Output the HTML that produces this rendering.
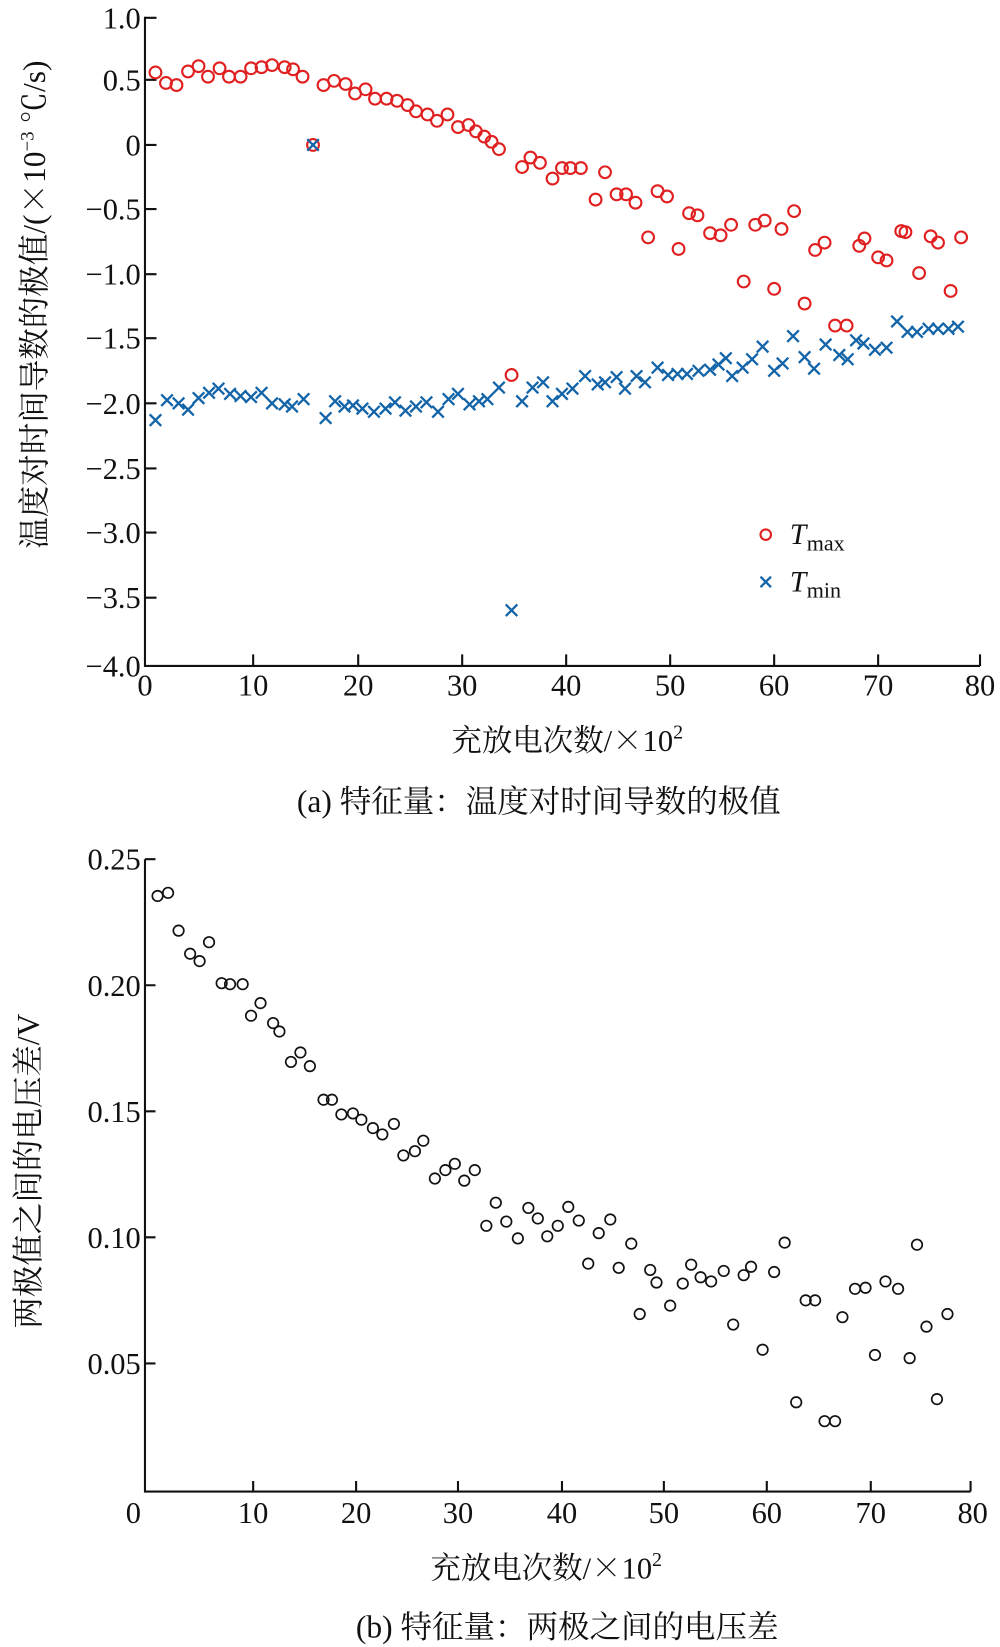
<!DOCTYPE html>
<html><head><meta charset="utf-8"><style>
html,body{margin:0;padding:0;background:#fff;}
svg{display:block;}
text{font-family:"Liberation Serif","Noto Serif CJK SC","Noto Sans CJK SC",serif;fill:#111;}
.cj{font-family:"Noto Serif CJK SC","Noto Sans CJK SC",serif;}
</style></head><body>
<svg width="1000" height="1647" viewBox="0 0 952 1568" xmlns="http://www.w3.org/2000/svg">
<defs>
<circle id="o" r="5.6" fill="none" stroke="#e02020" stroke-width="2"/>
<path id="x" d="M-5.5,-5.5L5.5,5.5M-5.5,5.5L5.5,-5.5" stroke="#1464a8" stroke-width="2.2" fill="none"/>
<circle id="b" r="5" fill="none" stroke="#111" stroke-width="1.6"/>
</defs>
<!-- TOP CHART AXES -->
<g stroke="#111" stroke-width="2" fill="none">
<path d="M138,16V634H933"/>
<path d="M138,17h11M138,76h11M138,138h11M138,199h11M138,261h11M138,322h11M138,384h11M138,446h11M138,507h11M138,569h11"/>
<path d="M241,634v-11M341,634v-11M440,634v-11M539,634v-11M638,634v-11M737,634v-11M836,634v-11M933,634v-11"/>
</g>
<g font-size="29" text-anchor="end">
<text x="134" y="27">1.0</text><text x="134" y="86">0.5</text><text x="134" y="148">0</text>
<text x="134" y="209">−0.5</text><text x="134" y="271">−1.0</text><text x="134" y="332">−1.5</text>
<text x="134" y="394">−2.0</text><text x="134" y="456">−2.5</text><text x="134" y="517">−3.0</text>
<text x="134" y="579">−3.5</text><text x="134" y="644">−4.0</text>
</g>
<g font-size="29" text-anchor="middle">
<text x="138" y="662">0</text><text x="241" y="662">10</text><text x="341" y="662">20</text><text x="440" y="662">30</text>
<text x="539" y="662">40</text><text x="638" y="662">50</text><text x="737" y="662">60</text><text x="836" y="662">70</text><text x="933" y="662">80</text>
</g>
<text x="540" y="715" font-size="29" text-anchor="middle">充放电次数/<tspan class="cj">×</tspan>10<tspan font-size="19" dy="-12">2</tspan></text>
<text x="513" y="773" font-size="30" text-anchor="middle">(a) 特征量<tspan class="cj">：</tspan>温度对时间导数的极值</text>
<text transform="translate(43,290) rotate(-90)" font-size="30" text-anchor="middle">温度对时间导数的极值/(<tspan class="cj">×</tspan>10<tspan font-size="18" dy="-11">−3</tspan><tspan dy="11"> </tspan><tspan class="cj">℃</tspan>/s)</text>
<!-- legend -->
<circle cx="729" cy="509" r="5" fill="none" stroke="#e02020" stroke-width="2"/>
<path d="M724,549L734,559M724,559L734,549" stroke="#1464a8" stroke-width="2.2"/>
<text x="752" y="518" font-size="28" font-style="italic">T</text><text x="768" y="524" font-size="21">max</text>
<text x="752" y="563" font-size="28" font-style="italic">T</text><text x="768" y="569" font-size="21">min</text>
<!-- red circles -->
<g>
<use href="#o" x="148" y="69"/><use href="#o" x="158" y="79"/><use href="#o" x="168" y="81"/><use href="#o" x="179" y="68"/><use href="#o" x="189" y="63"/><use href="#o" x="198" y="73"/><use href="#o" x="209" y="65"/><use href="#o" x="218" y="73"/><use href="#o" x="229" y="73"/><use href="#o" x="239" y="65"/><use href="#o" x="249" y="64"/><use href="#o" x="259" y="62"/><use href="#o" x="271" y="64"/><use href="#o" x="279" y="66"/><use href="#o" x="288" y="73"/><use href="#o" x="298" y="138"/><use href="#o" x="308" y="81"/><use href="#o" x="318" y="77"/><use href="#o" x="329" y="80"/><use href="#o" x="338" y="89"/><use href="#o" x="348" y="85"/><use href="#o" x="357" y="94"/><use href="#o" x="368" y="94"/><use href="#o" x="378" y="96"/><use href="#o" x="388" y="100"/><use href="#o" x="396" y="106"/><use href="#o" x="407" y="109"/><use href="#o" x="416" y="115"/><use href="#o" x="426" y="109"/><use href="#o" x="436" y="121"/><use href="#o" x="446" y="119"/><use href="#o" x="453" y="125"/><use href="#o" x="461" y="130"/><use href="#o" x="468" y="135"/><use href="#o" x="475" y="142"/><use href="#o" x="497" y="159"/><use href="#o" x="505" y="150"/><use href="#o" x="514" y="155"/><use href="#o" x="526" y="170"/><use href="#o" x="535" y="160"/><use href="#o" x="543" y="160"/><use href="#o" x="553" y="160"/><use href="#o" x="567" y="190"/><use href="#o" x="576" y="164"/><use href="#o" x="587" y="185"/><use href="#o" x="596" y="185"/><use href="#o" x="605" y="193"/><use href="#o" x="617" y="226"/><use href="#o" x="626" y="182"/><use href="#o" x="635" y="187"/><use href="#o" x="646" y="237"/><use href="#o" x="656" y="203"/><use href="#o" x="664" y="205"/><use href="#o" x="676" y="222"/><use href="#o" x="686" y="224"/><use href="#o" x="696" y="214"/><use href="#o" x="708" y="268"/><use href="#o" x="719" y="214"/><use href="#o" x="728" y="210"/><use href="#o" x="737" y="275"/><use href="#o" x="744" y="218"/><use href="#o" x="756" y="201"/><use href="#o" x="766" y="289"/><use href="#o" x="776" y="238"/><use href="#o" x="785" y="231"/><use href="#o" x="795" y="310"/><use href="#o" x="806" y="310"/><use href="#o" x="818" y="234"/><use href="#o" x="823" y="227"/><use href="#o" x="836" y="245"/><use href="#o" x="844" y="248"/><use href="#o" x="858" y="220"/><use href="#o" x="862" y="221"/><use href="#o" x="875" y="260"/><use href="#o" x="886" y="225"/><use href="#o" x="893" y="231"/><use href="#o" x="905" y="277"/><use href="#o" x="915" y="226"/><use href="#o" x="487" y="357"/>
</g>
<!-- blue crosses -->
<g>
<use href="#x" x="148" y="400"/><use href="#x" x="159" y="381"/><use href="#x" x="170" y="384"/><use href="#x" x="179" y="390"/><use href="#x" x="189" y="379"/><use href="#x" x="199" y="374"/><use href="#x" x="208" y="370"/><use href="#x" x="219" y="375"/><use href="#x" x="229" y="377"/><use href="#x" x="239" y="378"/><use href="#x" x="249" y="374"/><use href="#x" x="259" y="384"/><use href="#x" x="271" y="385"/><use href="#x" x="278" y="387"/><use href="#x" x="289" y="380"/><use href="#x" x="298" y="138"/><use href="#x" x="310" y="398"/><use href="#x" x="319" y="382"/><use href="#x" x="328" y="387"/><use href="#x" x="336" y="386"/><use href="#x" x="345" y="389"/><use href="#x" x="356" y="392"/><use href="#x" x="367" y="389"/><use href="#x" x="376" y="383"/><use href="#x" x="386" y="391"/><use href="#x" x="396" y="387"/><use href="#x" x="406" y="383"/><use href="#x" x="417" y="392"/><use href="#x" x="427" y="380"/><use href="#x" x="436" y="375"/><use href="#x" x="447" y="385"/><use href="#x" x="456" y="382"/><use href="#x" x="464" y="380"/><use href="#x" x="475" y="369"/><use href="#x" x="487" y="581"/><use href="#x" x="497" y="382"/><use href="#x" x="507" y="369"/><use href="#x" x="517" y="364"/><use href="#x" x="526" y="382"/><use href="#x" x="535" y="375"/><use href="#x" x="545" y="370"/><use href="#x" x="557" y="358"/><use href="#x" x="569" y="366"/><use href="#x" x="576" y="364"/><use href="#x" x="587" y="359"/><use href="#x" x="595" y="370"/><use href="#x" x="606" y="358"/><use href="#x" x="614" y="364"/><use href="#x" x="626" y="350"/><use href="#x" x="636" y="357"/><use href="#x" x="645" y="356"/><use href="#x" x="654" y="356"/><use href="#x" x="665" y="353"/><use href="#x" x="676" y="352"/><use href="#x" x="684" y="347"/><use href="#x" x="691" y="341"/><use href="#x" x="697" y="358"/><use href="#x" x="707" y="350"/><use href="#x" x="716" y="342"/><use href="#x" x="726" y="330"/><use href="#x" x="737" y="353"/><use href="#x" x="745" y="346"/><use href="#x" x="755" y="320"/><use href="#x" x="766" y="340"/><use href="#x" x="775" y="351"/><use href="#x" x="786" y="328"/><use href="#x" x="799" y="338"/><use href="#x" x="807" y="342"/><use href="#x" x="815" y="324"/><use href="#x" x="822" y="327"/><use href="#x" x="833" y="333"/><use href="#x" x="844" y="331"/><use href="#x" x="854" y="306"/><use href="#x" x="864" y="316"/><use href="#x" x="873" y="316"/><use href="#x" x="884" y="313"/><use href="#x" x="893" y="313"/><use href="#x" x="903" y="313"/><use href="#x" x="912" y="311"/>
</g>

<!-- BOTTOM CHART -->
<g stroke="#111" stroke-width="2" fill="none">
<path d="M138,818V1420H924"/>
<path d="M138,818h10M138,938h10M138,1058h10M138,1178h10M138,1298h10"/>
<path d="M241,1420v-10M339,1420v-10M436,1420v-10M535,1420v-10M632,1420v-10M730,1420v-10M829,1420v-10M924,1420v-10"/>
</g>
<g font-size="29" text-anchor="end">
<text x="134" y="828">0.25</text><text x="134" y="948">0.20</text><text x="134" y="1068">0.15</text>
<text x="134" y="1188">0.10</text><text x="134" y="1308">0.05</text>
</g>
<g font-size="29" text-anchor="middle">
<text x="127" y="1450">0</text><text x="241" y="1450">10</text><text x="339" y="1450">20</text><text x="436" y="1450">30</text>
<text x="535" y="1450">40</text><text x="632" y="1450">50</text><text x="730" y="1450">60</text><text x="829" y="1450">70</text><text x="926" y="1450">80</text>
</g>
<text x="520" y="1503" font-size="29" text-anchor="middle">充放电次数/<tspan class="cj">×</tspan>10<tspan font-size="19" dy="-12">2</tspan></text>
<text x="540" y="1559" font-size="30" text-anchor="middle">(b) 特征量<tspan class="cj">：</tspan>两极之间的电压差</text>
<text transform="translate(37,1115) rotate(-90)" font-size="30" text-anchor="middle">两极值之间的电压差/V</text>
<g>
<use href="#b" x="150" y="853"/><use href="#b" x="160" y="850"/><use href="#b" x="170" y="886"/><use href="#b" x="181" y="908"/><use href="#b" x="190" y="915"/><use href="#b" x="199" y="897"/><use href="#b" x="211" y="936"/><use href="#b" x="219" y="937"/><use href="#b" x="231" y="937"/><use href="#b" x="239" y="967"/><use href="#b" x="248" y="955"/><use href="#b" x="260" y="974"/><use href="#b" x="266" y="982"/><use href="#b" x="277" y="1011"/><use href="#b" x="286" y="1002"/><use href="#b" x="295" y="1015"/><use href="#b" x="308" y="1047"/><use href="#b" x="316" y="1047"/><use href="#b" x="325" y="1061"/><use href="#b" x="336" y="1060"/><use href="#b" x="344" y="1066"/><use href="#b" x="355" y="1074"/><use href="#b" x="364" y="1080"/><use href="#b" x="375" y="1070"/><use href="#b" x="384" y="1100"/><use href="#b" x="395" y="1096"/><use href="#b" x="403" y="1086"/><use href="#b" x="414" y="1122"/><use href="#b" x="424" y="1114"/><use href="#b" x="433" y="1108"/><use href="#b" x="442" y="1124"/><use href="#b" x="452" y="1114"/><use href="#b" x="463" y="1167"/><use href="#b" x="472" y="1145"/><use href="#b" x="482" y="1163"/><use href="#b" x="493" y="1179"/><use href="#b" x="503" y="1150"/><use href="#b" x="512" y="1160"/><use href="#b" x="521" y="1177"/><use href="#b" x="531" y="1167"/><use href="#b" x="541" y="1149"/><use href="#b" x="551" y="1162"/><use href="#b" x="560" y="1203"/><use href="#b" x="570" y="1174"/><use href="#b" x="581" y="1161"/><use href="#b" x="589" y="1207"/><use href="#b" x="601" y="1184"/><use href="#b" x="609" y="1251"/><use href="#b" x="619" y="1209"/><use href="#b" x="625" y="1221"/><use href="#b" x="638" y="1243"/><use href="#b" x="650" y="1222"/><use href="#b" x="658" y="1204"/><use href="#b" x="667" y="1216"/><use href="#b" x="677" y="1220"/><use href="#b" x="689" y="1210"/><use href="#b" x="698" y="1261"/><use href="#b" x="708" y="1214"/><use href="#b" x="715" y="1206"/><use href="#b" x="726" y="1285"/><use href="#b" x="737" y="1211"/><use href="#b" x="747" y="1183"/><use href="#b" x="758" y="1335"/><use href="#b" x="767" y="1238"/><use href="#b" x="776" y="1238"/><use href="#b" x="785" y="1353"/><use href="#b" x="795" y="1353"/><use href="#b" x="802" y="1254"/><use href="#b" x="814" y="1227"/><use href="#b" x="824" y="1226"/><use href="#b" x="833" y="1290"/><use href="#b" x="843" y="1220"/><use href="#b" x="855" y="1227"/><use href="#b" x="866" y="1293"/><use href="#b" x="873" y="1185"/><use href="#b" x="882" y="1263"/><use href="#b" x="892" y="1332"/><use href="#b" x="902" y="1251"/>
</g>
</svg>
</body></html>
